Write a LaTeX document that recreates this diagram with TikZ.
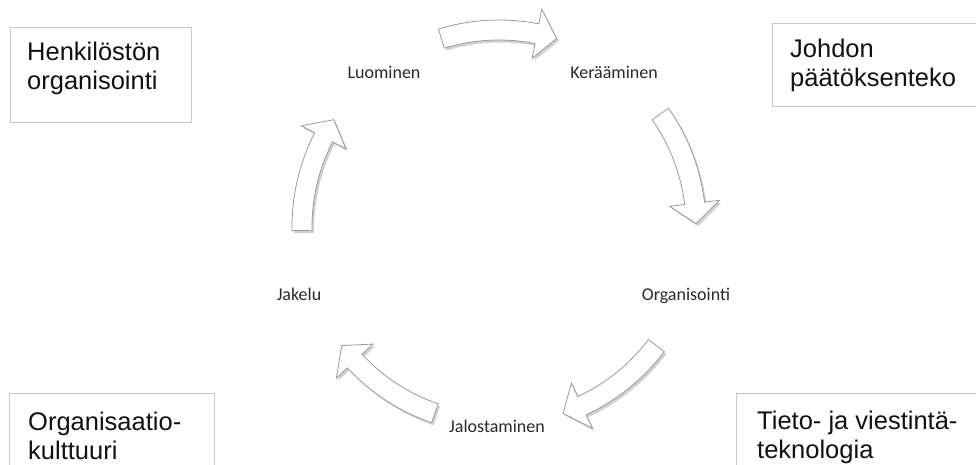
\documentclass[tikz,border=0pt]{standalone}
\usepackage{fontspec}
\setmainfont{Liberation Sans}
\newfontfamily\carlito{Carlito}
\usetikzlibrary{shadows}
\definecolor{boxline}{HTML}{C8C8C8}
\definecolor{arrline}{HTML}{9A9A9A}
\definecolor{txt}{HTML}{111111}
\tikzset{
  sidebox/.style={draw=boxline, line width=1pt, fill=white},
  boxtext/.style={anchor=base west, align=left, inner sep=0pt, text=txt,
    font=\fontsize{25.5}{29}\selectfont},
  steplabel/.style={anchor=base, inner sep=0pt, text=txt!90,
    font=\carlito\fontsize{18}{21}\selectfont},
  cyclearrow/.style={draw=arrline, line width=0.8pt, fill=white, line join=miter,
    drop shadow={opacity=0.3, shadow xshift=2pt, shadow yshift=-2.5pt, fill=black!60}}
}
% #1 start angle, #2 end angle (clockwise: #1 > #2)
\newcommand\cyclearc[2]{%
  \pgfmathsetmacro\hb{#2+5.9}%
  \path[cyclearrow] (#1:207) arc[start angle=#1, end angle=\hb, radius=207]
     -- (\hb:222) -- (#2:197) -- (\hb:172) -- (\hb:187)
     arc[start angle=\hb, end angle=#1, radius=187] -- cycle;}
\begin{document}
\begin{tikzpicture}[x=1pt,y=1pt]
\useasboundingbox (0,0) rectangle (976,-464);
\clip (0,0) rectangle (976,-464);
\fill[white] (0,0) rectangle (976,-464);

% side boxes
\node[sidebox, anchor=north west, minimum width=181, minimum height=95] (hbox) at (10,-27) {};
\node[sidebox, anchor=north west, minimum width=230, minimum height=83] (jbox) at (772,-23) {};
\node[sidebox, anchor=north west, minimum width=205, minimum height=100] (obox) at (9,-393) {};
\node[sidebox, anchor=north west, minimum width=260, minimum height=100] (tbox) at (736,-393) {};

% (base anchor of a two-line node = baseline of its last line)
\node[boxtext] (htext) at (27,-89) {Henkilöstön\\organisointi};
\node[boxtext] (jtext) at (790,-86) {Johdon\\päätöksenteko};
\node[boxtext] (otext) at (28,-459) {Organisaatio-\\kulttuuri};
\node[boxtext] (ttext) at (757,-458) {Tieto- ja viestintä-\\teknologia};

% cycle arrows
\begin{scope}[shift={(499,-227)}]
\cyclearc{107}{73}
\cyclearc{35}{1}
\cyclearc{-37}{-71}
\cyclearc{-109}{-143}
\cyclearc{181}{147}
\end{scope}

% step labels
\node[steplabel] (luo) at (384,-78) {Luominen};
\node[steplabel] (ker) at (614,-78) {Kerääminen};
\node[steplabel] (org) at (686,-300) {Organisointi};
\node[steplabel] (jal) at (497,-432) {Jalostaminen};
\node[steplabel] (jak) at (299,-300) {Jakelu};
\end{tikzpicture}
\end{document}
